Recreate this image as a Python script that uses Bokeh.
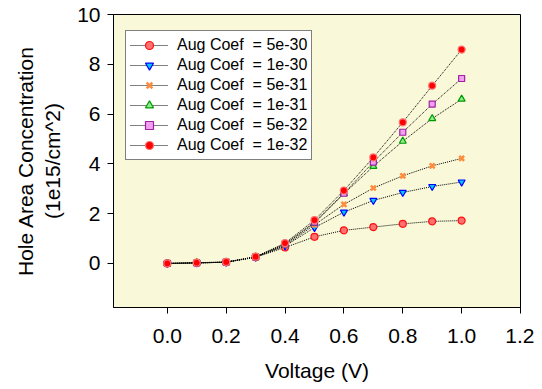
from bokeh.plotting import figure
from bokeh.models import Range1d, FixedTicker, PrintfTickFormatter, Legend
from bokeh.embed import file_html
from bokeh.resources import INLINE

voltage = [0.0, 0.1, 0.2, 0.3, 0.4, 0.5, 0.6, 0.7, 0.8, 0.9, 1.0]
aug_5e30 = [0.0, 0.02, 0.05, 0.25, 0.64, 1.07, 1.33, 1.46, 1.59, 1.69, 1.72]
aug_1e30 = [0.0, 0.02, 0.05, 0.25, 0.70, 1.44, 2.06, 2.53, 2.85, 3.09, 3.27]
aug_5e31 = [0.0, 0.02, 0.05, 0.26, 0.72, 1.55, 2.37, 3.03, 3.52, 3.92, 4.22]
aug_1e31 = [0.0, 0.03, 0.05, 0.26, 0.76, 1.62, 2.80, 3.90, 4.91, 5.82, 6.60]
aug_5e32 = [0.0, 0.02, 0.05, 0.26, 0.78, 1.66, 2.82, 4.07, 5.27, 6.40, 7.43]
aug_1e32 = [0.0, 0.03, 0.06, 0.27, 0.82, 1.74, 2.93, 4.26, 5.67, 7.14, 8.59]
labels = ["Aug Coef\u00a0 = 5e-30", "Aug Coef\u00a0 = 1e-30", "Aug Coef\u00a0 = 5e-31",
          "Aug Coef\u00a0 = 1e-31", "Aug Coef\u00a0 = 5e-32", "Aug Coef\u00a0 = 1e-32"]
x_ticks = [0.0, 0.2, 0.4, 0.6, 0.8, 1.0, 1.2]
y_ticks = [0, 2, 4, 6, 8, 10]

FONT = "Liberation Sans"

p = figure(width=534, height=387, output_backend="svg", toolbar_location=None,
           x_range=Range1d(-0.183, 1.2), y_range=Range1d(-1.77, 10))
p.min_border_left = 113
p.min_border_right = 14
p.min_border_top = 14
p.min_border_bottom = 80
p.background_fill_color = "#F9F9DA"
p.border_fill_color = "white"
p.outline_line_color = "black"
p.outline_line_width = 1
p.grid.visible = False

for ax in (p.xaxis[0], p.yaxis[0]):
    ax.major_tick_in = 0
    ax.major_tick_out = 6
    ax.minor_tick_in = 0
    ax.minor_tick_out = 0
    ax.axis_line_color = "black"
    ax.major_tick_line_color = "black"
    ax.major_label_text_font = FONT
    ax.major_label_text_font_size = "21px"
    ax.major_label_text_color = "black"
    ax.axis_label_text_font = FONT
    ax.axis_label_text_font_size = "21px"
    ax.axis_label_text_font_style = "normal"
    ax.axis_label_text_color = "black"

p.xaxis.major_label_standoff = 15
p.yaxis.major_label_standoff = 7
p.xaxis.ticker = FixedTicker(ticks=x_ticks)
p.xaxis.formatter = PrintfTickFormatter(format="%.1f")
p.yaxis.ticker = FixedTicker(ticks=y_ticks)
p.yaxis.formatter = PrintfTickFormatter(format="%d")
p.xaxis.axis_label = "Voltage (V)"
p.yaxis.axis_label = "Hole Area Concentration\n(1e15/cm^2)"
p.xaxis.axis_label_standoff = 13
p.yaxis.axis_label_standoff = 10

series = [aug_5e30, aug_1e30, aug_5e31, aug_1e31, aug_5e32, aug_1e32]
styles = [
    dict(marker="circle", size=7, fill_color="#FF7070", line_color="#FF1010"),
    dict(marker="inverted_triangle", size=7, fill_color="#00C8FF", line_color="#0000FF"),
    dict(marker="x", size=7, fill_color="#FF8C3C", line_color="#FF8C3C", line_width=2.5),
    dict(marker="triangle", size=7, fill_color="#90EE90", line_color="#009900"),
    dict(marker="square", size=6, fill_color="#F0A0F0", line_color="#A020A0"),
    dict(marker="circle", size=7, fill_color="#FF0000", line_color="#FF7070"),
]

items = []
for vals, lab, st in zip(series, labels, styles):
    r1 = p.line(voltage, vals, line_color="black", line_dash="1 1", line_width=1)
    st = dict(st)
    lw = st.pop("line_width", 1.2)
    r2 = p.scatter(voltage, vals, line_width=lw, **st)
    items.append((lab, [r1, r2]))

legend = Legend(items=items, location=(12, 147))
legend.label_text_font = FONT
legend.label_text_font_size = "16px"
legend.label_text_color = "black"
legend.label_height = 20
legend.glyph_height = 20
legend.glyph_width = 38
legend.label_standoff = 9
legend.spacing = 0
legend.padding = 4
legend.margin = 0
legend.border_line_color = "black"
legend.border_line_width = 1
legend.background_fill_color = "white"
legend.background_fill_alpha = 1
p.add_layout(legend, "center")

open("out.html", "w").write(file_html(p, INLINE))
